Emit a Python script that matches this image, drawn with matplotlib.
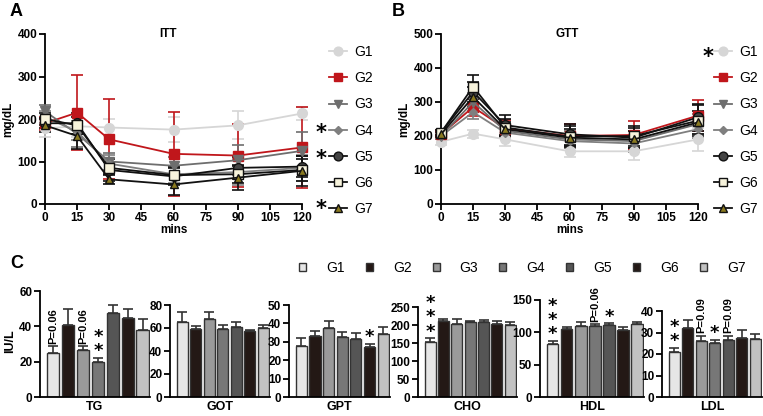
import matplotlib
matplotlib.use("Agg")
import matplotlib.pyplot as plt
from matplotlib.lines import Line2D
from matplotlib.patches import Patch
import numpy as np

plt.rcParams['font.family'] = ['Liberation Sans', 'DejaVu Sans']

W, H = 763, 416
groups = ["G1", "G2", "G3", "G4", "G5", "G6", "G7"]
times = [0, 15, 30, 60, 90, 120]

itt_mean = {
    "G1": [178, 183, 180, 175, 185, 213],
    "G2": [190, 215, 152, 118, 114, 133],
    "G3": [218, 165, 100, 90, 103, 125],
    "G4": [205, 170, 95, 70, 75, 85],
    "G5": [190, 190, 80, 65, 85, 88],
    "G6": [200, 185, 85, 68, 70, 80],
    "G7": [185, 160, 58, 46, 62, 78],
}
itt_err = {
    "G1": [20, 25, 20, 30, 33, 15],
    "G2": [15, 88, 94, 99, 75, 95],
    "G3": [15, 30, 20, 20, 35, 45],
    "G4": [15, 20, 20, 20, 30, 30],
    "G5": [12, 25, 25, 20, 25, 25],
    "G6": [15, 20, 15, 20, 20, 25],
    "G7": [15, 30, 10, 25, 30, 35],
}
gtt_mean = {
    "G1": [183, 207, 190, 155, 155, 190],
    "G2": [205, 285, 222, 200, 203, 260],
    "G3": [200, 300, 215, 190, 185, 235],
    "G4": [200, 270, 210, 185, 178, 220],
    "G5": [210, 330, 232, 205, 195, 255],
    "G6": [210, 345, 225, 198, 200, 245],
    "G7": [205, 315, 220, 195, 190, 240],
}
gtt_err = {
    "G1": [8, 12, 20, 18, 25, 35],
    "G2": [10, 25, 25, 35, 40, 45],
    "G3": [10, 25, 20, 25, 30, 30],
    "G4": [8, 20, 15, 20, 25, 25],
    "G5": [8, 30, 30, 30, 30, 40],
    "G6": [8, 35, 25, 30, 30, 45],
    "G7": [8, 30, 20, 25, 25, 35],
}

bar_panels = ["TG", "GOT", "GPT", "CHO", "HDL", "LDL"]
bar_mean = {
    "TG":  [25, 41, 26.5, 20, 47.5, 44.5, 38],
    "GOT": [65, 59, 67.5, 59.5, 61, 57, 60],
    "GPT": [27.5, 33, 37.5, 32.5, 31.5, 27, 34],
    "CHO": [153, 210, 204, 207, 208, 203, 201],
    "HDL": [82, 105, 110, 110, 111, 104, 113],
    "LDL": [21, 32, 26, 25, 26.5, 27.5, 27],
}
bar_err = {
    "TG":  [4, 9, 2.5, 2, 4.5, 5.5, 6],
    "GOT": [9, 3, 6.5, 3, 4, 1.5, 3],
    "GPT": [4.5, 3, 4, 3, 3.5, 2, 4],
    "CHO": [10, 6, 12, 4, 6, 8, 6],
    "HDL": [5, 4, 6, 3, 3, 5, 3],
    "LDL": [2, 4, 2.5, 1.5, 2, 3.5, 2.5],
}
bar_ymax = {"TG": 60, "GOT": 80, "GPT": 50, "CHO": 250, "HDL": 150, "LDL": 40}
bar_ystep = {"TG": 20, "GOT": 20, "GPT": 10, "CHO": 50, "HDL": 50, "LDL": 10}
bar_annot = {
    "TG": {0: "P=0.06", 2: "P=0.06", 3: "**"},
    "GPT": {5: "*"},
    "CHO": {0: "***"},
    "HDL": {0: "***", 3: "P=0.06", 4: "*"},
    "LDL": {0: "**", 2: "P=0.09", 3: "*", 4: "P=0.09"},
}

line_style = {
    "G1": dict(color="#d6d6d6", marker="o", mfc="#d6d6d6", mec="#d6d6d6", ms=7),
    "G2": dict(color="#c0161b", marker="s", mfc="#c0161b", mec="#c0161b", ms=7),
    "G3": dict(color="#6e6e6e", marker="v", mfc="#6e6e6e", mec="#6e6e6e", ms=7),
    "G4": dict(color="#7f7f7f", marker="D", mfc="#7f7f7f", mec="#7f7f7f", ms=4.5),
    "G5": dict(color="#111111", marker="o", mfc="#444444", mec="#111111", ms=7),
    "G6": dict(color="#111111", marker="s", mfc="#f7f3dc", mec="#111111", ms=7),
    "G7": dict(color="#111111", marker="^", mfc="#8a7a20", mec="#111111", ms=6),
}
bar_colors = ["#e6e6e6", "#231815", "#9a9a9a", "#777777", "#555555", "#231815", "#c2c2c2"]


def px_axes(fig, x0, x1, ytop, ybot):
    return fig.add_axes([x0 / W, 1 - ybot / H, (x1 - x0) / W, (ybot - ytop) / H])


fig = plt.figure(figsize=(W / 100, H / 100), dpi=100)


def style_axes(ax, fs=8.5):
    for s in ["top", "right"]:
        ax.spines[s].set_visible(False)
    for s in ["left", "bottom"]:
        ax.spines[s].set_linewidth(1.3)
    ax.tick_params(width=1.3, length=4, labelsize=fs, pad=1.5)
    for lab in ax.get_xticklabels() + ax.get_yticklabels():
        lab.set_fontweight("bold")


def line_panel(ax, mean, err, ymax, title, star_groups, legx, starx, titlex):
    for g in groups:
        st = line_style[g]
        ax.errorbar(times, mean[g], yerr=err[g], color=st["color"], marker=st["marker"],
                    mfc=st["mfc"], mec=st["mec"], ms=st["ms"], lw=1.3, elinewidth=1.2,
                    capsize=4, capthick=1.2, clip_on=False, zorder=3)
    ax.set_xlim(0, 120)
    ax.set_ylim(0, ymax)
    ax.set_xticks(np.arange(0, 121, 15))
    ax.set_yticks(np.arange(0, ymax + 1, 100))
    ax.set_xlabel("mins", fontweight="bold", fontsize=8.5, labelpad=0)
    ax.set_ylabel("mg/dL", fontweight="bold", fontsize=8.5, labelpad=2)
    ax.text(titlex, 1.0, title, transform=ax.transAxes, fontweight="bold", fontsize=8.5,
            ha="center", va="center")
    style_axes(ax)
    handles = [Line2D([0], [0], color=line_style[g]["color"], marker=line_style[g]["marker"],
                      mfc=line_style[g]["mfc"], mec=line_style[g]["mec"],
                      ms=line_style[g]["ms"] * 0.9, lw=1.3) for g in groups]
    fig.legend(handles, groups, loc="upper left", bbox_to_anchor=(legx / W, 1 - 45 / H),
               frameon=False, fontsize=10, labelspacing=0.88, handlelength=1.3,
               handletextpad=0.55, borderaxespad=0, borderpad=0)
    for i, g in enumerate(groups):
        if g in star_groups:
            yy = 53 + i * 25.4
            fig.text(starx / W, 1 - (yy + 4) / H, "*", fontsize=15, fontweight="bold",
                     ha="center", va="center", family="DejaVu Sans")


axA = px_axes(fig, 45, 302, 34, 204)
line_panel(axA, itt_mean, itt_err, 400, "ITT", ["G4", "G5", "G7"], 329, 321, 0.48)
axB = px_axes(fig, 441, 698, 34, 204)
line_panel(axB, gtt_mean, gtt_err, 500, "GTT", ["G1"], 714, 708, 0.49)

fig.text(10 / W, 1 - 11 / H, "A", fontsize=13, fontweight="bold", va="center")
fig.text(392 / W, 1 - 11 / H, "B", fontsize=13, fontweight="bold", va="center")
fig.text(10 / W, 1 - 263 / H, "C", fontsize=13, fontweight="bold", va="center")

# Bar panels
bar_px = {"TG": (40, 150), "GOT": (170, 270), "GPT": (289, 390), "CHO": (418, 517),
          "HDL": (540, 644), "LDL": (662, 762)}
top_px = {"TG": 291, "GOT": 305, "GPT": 305, "CHO": 307, "HDL": 300, "LDL": 311}
ybot = 397
ytop_ax = 285
xpos = np.arange(7)
for p in bar_panels:
    x0, x1 = bar_px[p]
    ax = px_axes(fig, x0, x1, ytop_ax, ybot)
    ym = bar_ymax[p]
    ylim_top = ym * (ybot - ytop_ax) / (ybot - top_px[p])
    ax.bar(xpos, bar_mean[p], width=0.82, color=bar_colors, edgecolor="#333333", linewidth=1.0,
           zorder=2)
    ax.errorbar(xpos, bar_mean[p], yerr=[np.zeros(7), bar_err[p]], fmt="none",
                ecolor="#333333", elinewidth=1.2, capsize=3.5, capthick=1.2, zorder=1)
    ax.set_ylim(0, ylim_top)
    ax.set_xlim(-0.9, 6.5)
    ax.set_yticks(np.arange(0, ym + 1, bar_ystep[p]))
    ax.spines["left"].set_bounds(0, ym)
    ax.set_xticks([])
    ax.set_xlabel(p, fontweight="bold", fontsize=9, labelpad=3)
    style_axes(ax, fs=8.5)
    if p == "TG":
        ax.set_ylabel("IU/L", fontweight="bold", fontsize=9, labelpad=2)
    for i, txt in bar_annot.get(p, {}).items():
        ytxt = bar_mean[p][i] + bar_err[p][i] + ylim_top * 0.02
        if txt.startswith("P="):
            ax.text(i, ytxt, txt, rotation=90, ha="center", va="bottom", fontsize=8,
                    fontweight="bold")
        else:
            ax.text(i, ytxt - ylim_top * 0.04, "\n".join(txt), ha="center", va="bottom",
                    fontsize=13, fontweight="bold", linespacing=0.72, family="DejaVu Sans")

bar_handles = [Patch(facecolor=c, edgecolor="#333333", linewidth=1.0) for c in bar_colors]
fig.legend(bar_handles, groups, loc="center left", bbox_to_anchor=(299 / W, 1 - 268 / H),
           ncol=7, frameon=False, fontsize=10, handlelength=0.5, handleheight=0.5,
           handletextpad=1.45, columnspacing=1.52, borderaxespad=0, borderpad=0)

fig.savefig("out.png", dpi=100)
